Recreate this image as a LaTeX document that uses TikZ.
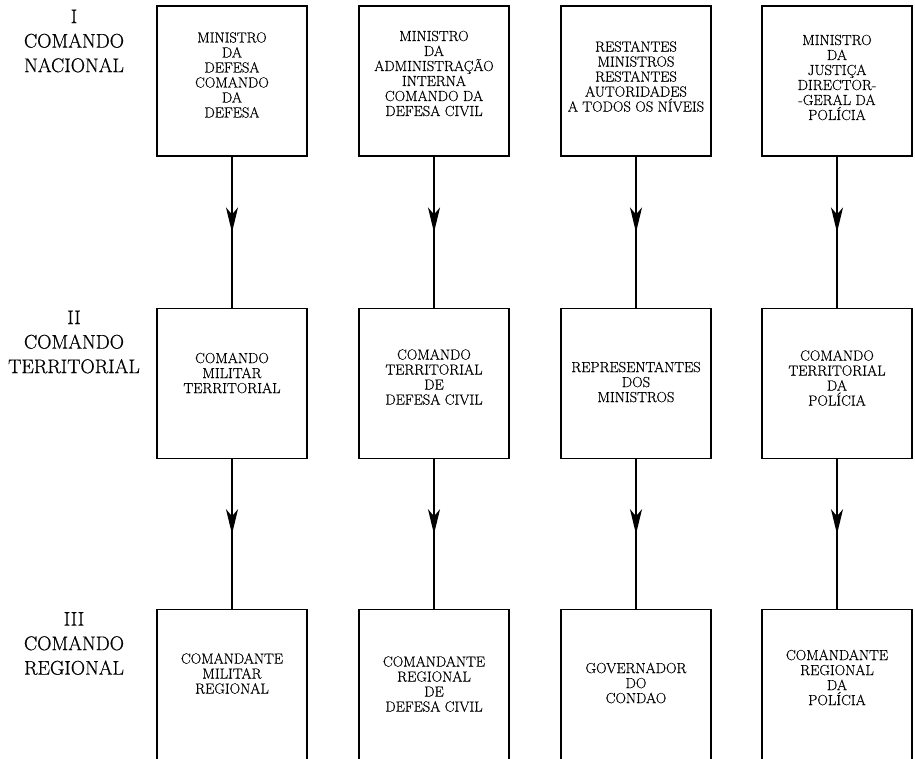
\documentclass[tikz,border=0pt]{standalone}
\usepackage{fontspec}
\newfontfamily\printfont{Latin Modern Roman}[FakeBold=0.6]
\usetikzlibrary{arrows.meta}
\usetikzlibrary{decorations.markings}

\begin{document}
\begin{tikzpicture}[x=1pt, y=-1pt]
            \tikzset{
                organ/.style={draw, line width=1.4pt, minimum width=150pt, minimum height=150pt, anchor=north, inner sep=0pt},
                openorgan/.style={organ, minimum height=175pt},
                organtext/.style={align=center, font=\printfont\fontsize{14.6}{15}\selectfont, inner sep=0pt},
                leveltext/.style={align=center, font=\printfont\fontsize{19.8}{24.5}\selectfont, inner sep=0pt},
                command/.style={line width=1.4pt, decoration={markings, mark=at position 0.5 with {\arrow{Stealth[length=25pt, width=12pt, inset=7pt]}}}, postaction={decorate}}
            }
            \useasboundingbox (0, 0) rectangle (915, 759);
            \clip (0, 0) rectangle (915, 759);
            \node[leveltext] (lvl1) at (74, 41) {I\\COMANDO\\NACIONAL};
            \node[leveltext] (lvl2) at (74, 342) {II\\COMANDO\\TERRITORIAL};
            \node[leveltext] (lvl3) at (74, 643.5) {III\\COMANDO\\REGIONAL};
            \node[organ] (nac1) at (232, 5.5) {};
            \node[organ] (nac2) at (434, 5.5) {};
            \node[organ] (nac3) at (636, 5.5) {};
            \node[organ] (nac4) at (837, 5.5) {};
            \node[organ] (ter1) at (232, 308) {};
            \node[organ] (ter2) at (434, 308) {};
            \node[organ] (ter3) at (636, 308) {};
            \node[organ] (ter4) at (837, 308) {};
            \node[openorgan] (reg1) at (232, 609) {};
            \node[openorgan] (reg2) at (434, 609) {};
            \node[openorgan] (reg3) at (636, 609) {};
            \node[openorgan] (reg4) at (837, 609) {};
            \node[organtext] (nac1t) at (232, 75) {MINISTRO\\DA\\DEFESA\\COMANDO\\DA\\DEFESA};
            \node[organtext] (nac2t) at (434, 73.5) {MINISTRO\\DA\\ADMINISTRAÇÃO\\INTERNA\\COMANDO DA\\DEFESA CIVIL};
            \node[organtext] (nac3t) at (636, 76.5) {RESTANTES\\MINISTROS\\RESTANTES\\AUTORIDADES\\A TODOS OS NÍVEIS};
            \node[organtext] (nac4t) at (837, 77.5) {MINISTRO\\DA\\JUSTIÇA\\DIRECTOR-\\-GERAL DA\\POLÍCIA};
            \node[organtext] (ter1t) at (232, 373) {COMANDO\\MILITAR\\TERRITORIAL};
            \node[organtext] (ter2t) at (434, 377) {COMANDO\\TERRITORIAL\\DE\\DEFESA CIVIL};
            \node[organtext] (ter3t) at (636, 382) {REPRESENTANTES\\DOS\\MINISTROS};
            \node[organtext] (ter4t) at (837, 378) {COMANDO\\TERRITORIAL\\DA\\POLÍCIA};
            \node[organtext] (reg1t) at (232, 673.5) {COMANDANTE\\MILITAR\\REGIONAL};
            \node[organtext] (reg2t) at (434, 684) {COMANDANTE\\REGIONAL\\DE\\DEFESA CIVIL};
            \node[organtext] (reg3t) at (636, 683) {GOVERNADOR\\DO\\CONDAO};
            \node[organtext] (reg4t) at (837, 677.5) {COMANDANTE\\REGIONAL\\DA\\POLÍCIA};
            \foreach \c in {1, ..., 4} {
                \draw[command] (nac\c) -- (ter\c);
                \draw[command] (ter\c) -- (reg\c);
            }
        \end{tikzpicture}
\end{document}
